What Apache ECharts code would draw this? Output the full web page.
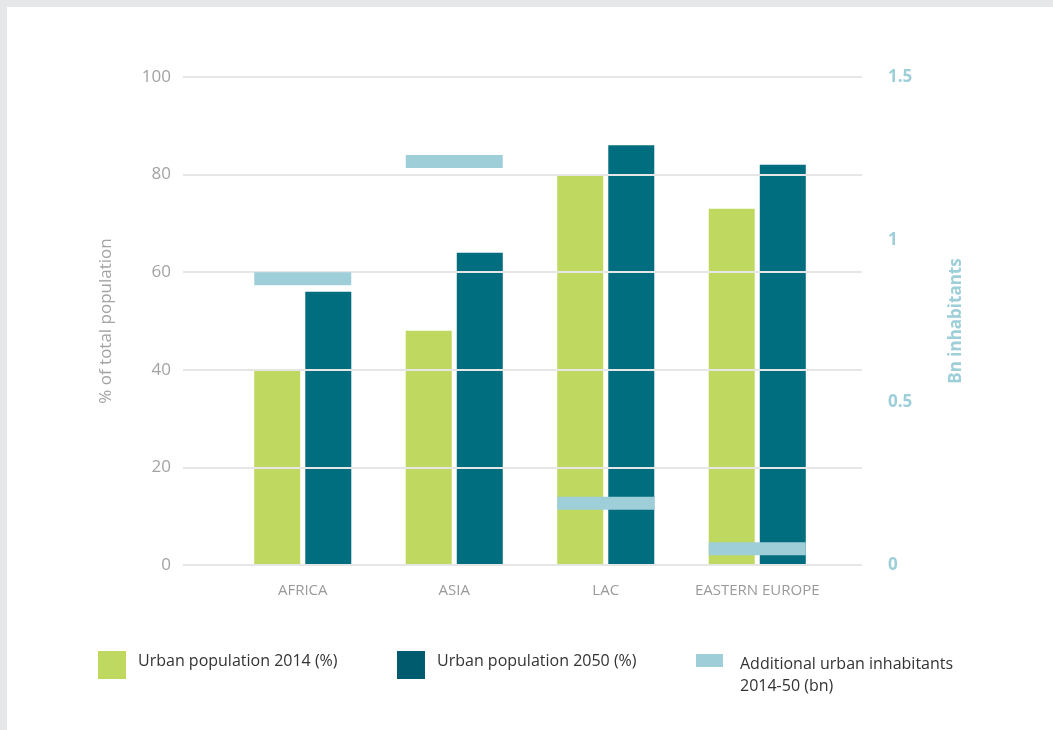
<!DOCTYPE html>
<html>
<head>
<meta charset="utf-8">
<script src="https://cdn.jsdelivr.net/npm/echarts@6/dist/echarts.min.js"></script>
<style>
  html, body { margin: 0; padding: 0; background: #e6e7e9; }
  #panel { position: absolute; left: 7px; top: 7px; width: 1046px; height: 723px; background: #ffffff; }
  #chart { position: absolute; left: 0; top: 0; width: 1053px; height: 730px; }
</style>
</head>
<body>
<div id="panel"></div>
<div id="chart"></div>
<script>
// Regions and values
const regions = ['AFRICA', 'ASIA', 'LAC', 'EASTERN EUROPE'];
const urban2014 = [40, 48, 80, 73];          // % of total population
const urban2050 = [56, 64, 86, 82];          // % of total population
const additionalBn = [0.88, 1.24, 0.19, 0.05]; // additional urban inhabitants 2014-50, bn

const pctTicks = { min: 0, max: 100, interval: 20 };
const bnTicks = { min: 0, max: 1.5, interval: 0.5 };

const seriesNames = ['Urban population 2014 (%)', 'Urban population 2050 (%)', 'Additional urban inhabitants\n2014-50 (bn)'];

const GREEN = '#bfd960';
const TEAL = '#006e7e';
const TEAL_DARK = '#005b6e';
const LIGHTBLUE = '#9ecfd9';
const FONT = '"Open Sans", sans-serif';

const chart = echarts.init(document.getElementById('chart'), null, { renderer: 'canvas' });

const option = {
  backgroundColor: 'transparent',
  animation: false,
  grid: [
    // grid 0 carries the gridlines and both visible value axes
    { left: 183, right: 191, top: 77, bottom: 165 },
    // grid 1 carries the bars, narrower category band
    { left: 227, right: 220, top: 77, bottom: 165 }
  ],
  xAxis: [
    { type: 'value', gridIndex: 0, show: false, min: 0, max: 1 },
    {
      type: 'category', gridIndex: 1, data: regions,
      axisLine: { show: false }, axisTick: { show: false },
      axisLabel: { color: '#9a9a9a', fontSize: 15, fontFamily: FONT, margin: 18, interval: 0, hideOverlap: false }
    }
  ],
  yAxis: [
    {
      type: 'value', gridIndex: 0, position: 'left', z: 3,
      min: pctTicks.min, max: pctTicks.max, interval: pctTicks.interval,
      name: '% of total population', nameLocation: 'middle', nameRotate: 90, nameGap: 68,
      nameTextStyle: { color: '#a3a3a3', fontSize: 17, fontFamily: FONT },
      axisLine: { show: false }, axisTick: { show: false },
      axisLabel: { color: '#a3a3a3', fontSize: 17, fontFamily: FONT, margin: 12 },
      splitLine: { show: true, lineStyle: { color: '#e6e6e6', width: 2 } }
    },
    {
      type: 'value', gridIndex: 0, position: 'right', z: 3,
      min: bnTicks.min, max: bnTicks.max, interval: bnTicks.interval,
      name: 'Bn inhabitants', nameLocation: 'middle', nameRotate: 90, nameGap: 86,
      nameTextStyle: { color: LIGHTBLUE, fontSize: 17, fontWeight: 'bold', fontFamily: FONT },
      axisLine: { show: false }, axisTick: { show: false },
      axisLabel: { color: LIGHTBLUE, fontSize: 17, fontWeight: 'bold', fontFamily: FONT, margin: 26, align: 'left' },
      splitLine: { show: false }
    },
    { type: 'value', gridIndex: 1, show: false, min: pctTicks.min, max: pctTicks.max, interval: pctTicks.interval },
    { type: 'value', gridIndex: 1, show: false, min: bnTicks.min, max: bnTicks.max, interval: bnTicks.interval }
  ],
  series: [
    {
      name: seriesNames[0], type: 'bar', xAxisIndex: 1, yAxisIndex: 2,
      data: urban2014, barWidth: 46, barGap: '11%',
      itemStyle: { color: GREEN }
    },
    {
      name: seriesNames[1], type: 'bar', xAxisIndex: 1, yAxisIndex: 2,
      data: urban2050, barWidth: 46, barGap: '11%',
      itemStyle: { color: TEAL }
    },
    {
      name: seriesNames[2], type: 'scatter', xAxisIndex: 1, yAxisIndex: 3, z: 4,
      data: additionalBn, symbol: 'rect', symbolSize: [97, 13],
      itemStyle: { color: LIGHTBLUE, opacity: 1 }
    }
  ],
  graphic: [
    { type: 'rect', left: 98, top: 651, shape: { width: 28, height: 28 }, style: { fill: GREEN } },
    { type: 'text', left: 138, top: 653, style: { text: seriesNames[0], fill: '#333333', fontSize: 16, fontFamily: FONT } },
    { type: 'rect', left: 397, top: 651, shape: { width: 28, height: 28 }, style: { fill: TEAL_DARK } },
    { type: 'text', left: 437, top: 653, style: { text: seriesNames[1], fill: '#333333', fontSize: 16, fontFamily: FONT } },
    { type: 'rect', left: 696, top: 654, shape: { width: 27, height: 13 }, style: { fill: LIGHTBLUE } },
    { type: 'text', left: 740, top: 653, style: { text: seriesNames[2], fill: '#333333', fontSize: 16, fontFamily: FONT, lineHeight: 22 } }
  ]
};

chart.setOption(option);
</script>
</body>
</html>
